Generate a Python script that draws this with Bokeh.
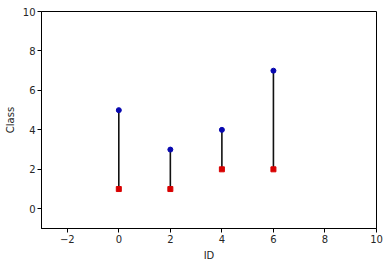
from bokeh.plotting import figure
from bokeh.embed import file_html
from bokeh.resources import INLINE
from bokeh.models import Range1d, FixedTicker

ids = [0, 2, 4, 6]
class_high = [5, 3, 4, 7]
class_low = [1, 1, 2, 2]
x_ticks = [-2, 0, 2, 4, 6, 8, 10]
y_ticks = [0, 2, 4, 6, 8, 10]

p = figure(width=389, height=266, output_backend="svg", toolbar_location=None,
           x_range=Range1d(-3, 10), y_range=Range1d(-1, 10),
           frame_width=335, frame_height=217,
           min_border_left=41, min_border_right=13, min_border_top=11, min_border_bottom=38)
p.background_fill_color = "white"
p.border_fill_color = "white"
p.outline_line_color = "#000000"
p.outline_line_width = 1
p.xgrid.visible = False
p.ygrid.visible = False

p.segment(x0=ids, y0=class_low, x1=ids, y1=class_high, line_color="#111111", line_width=1.6)
p.scatter(ids, class_low, marker="square", size=5, fill_color="#d80000", line_color="#d80000")
p.scatter(ids, class_high, marker="circle", size=5, fill_color="#0808b0", line_color="#0808b0")

for ax, ticks in ((p.xaxis[0], x_ticks), (p.yaxis[0], y_ticks)):
    ax.ticker = FixedTicker(ticks=ticks)
    ax.minor_tick_line_color = None
    ax.major_tick_in = 0
    ax.major_tick_out = 4
    ax.axis_line_color = "#000000"
    ax.major_tick_line_color = "#000000"
    ax.major_label_text_font = "DejaVu Sans"
    ax.major_label_text_font_size = "10px"
    ax.major_label_text_color = "#262626"
    ax.axis_label_text_font = "DejaVu Sans"
    ax.axis_label_text_font_size = "10px"
    ax.axis_label_text_font_style = "normal"
    ax.axis_label_text_color = "#262626"
    ax.axis_label_standoff = 4
    ax.major_label_standoff = 2

p.xaxis.axis_label = "ID"
p.yaxis.axis_label = "Class"

open("out.html", "w").write(file_html(p, INLINE))
